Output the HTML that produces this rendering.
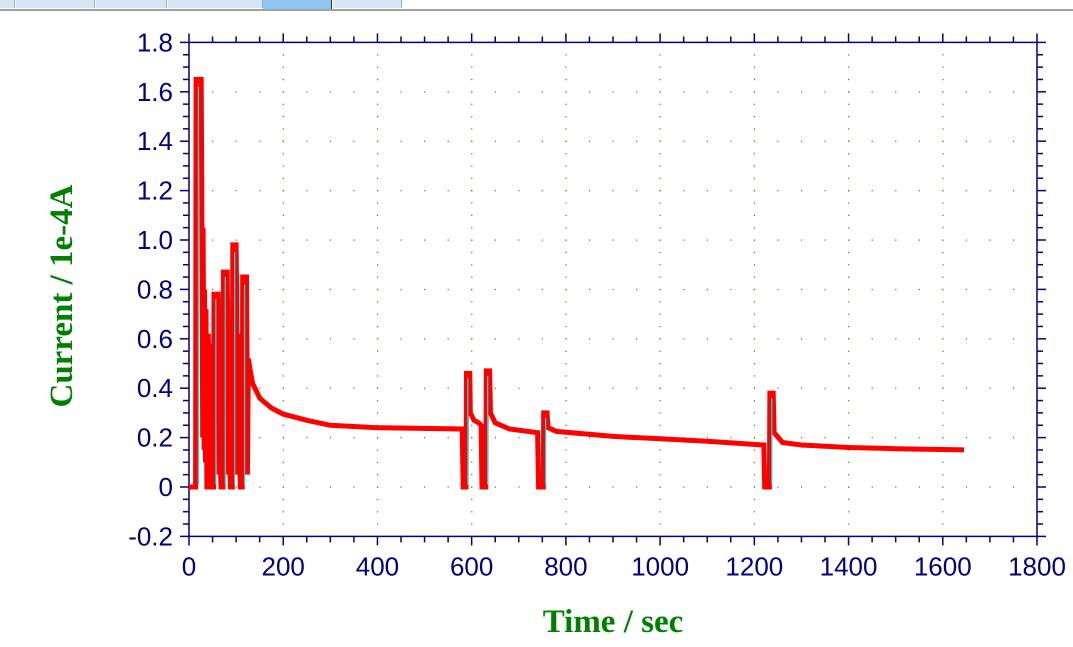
<!DOCTYPE html>
<html><head><meta charset="utf-8"><style>
html,body{margin:0;padding:0;background:#fff;width:1073px;height:647px;overflow:hidden;font-family:"Liberation Sans",sans-serif}
</style></head><body>
<div style="position:absolute;left:0;top:0;width:1073px;height:9px;background:#fff;border-bottom:2px solid #a0a0a0"></div>
<div style="position:absolute;left:0;top:0;width:14px;height:8px;background:#d4e6f8;border-right:1px solid #8fb4dc"></div>
<div style="position:absolute;left:16px;top:0;width:78px;height:8px;background:#d4e6f8;border-right:1px solid #8fb4dc"></div>
<div style="position:absolute;left:96px;top:0;width:70px;height:8px;background:#d4e6f8;border-right:1px solid #8fb4dc"></div>
<div style="position:absolute;left:168px;top:0;width:94px;height:8px;background:#d4e6f8;border-right:1px solid #8fb4dc"></div>
<div style="position:absolute;left:263px;top:0;width:68px;height:9px;background:#8ec4f0;border-right:1px solid #333"></div>
<div style="position:absolute;left:333px;top:0;width:68px;height:8px;background:#d4e6f8;border-right:1px solid #8fb4dc"></div>
<svg id="chart" width="1073" height="647" style="position:absolute;left:0;top:0" xmlns="http://www.w3.org/2000/svg"></svg>
<script>
const times=[0,14,15,26,27,29,30,32,33,35,36,38,40,41,43,45,47,48,52,53,62,63,64,66,67,68,72,73,81,82,84,86,87,88,92,93,100,101,102,104,105,107,108,109,113,114,122,123,124,126,130,135,150,175,200,250,300,400,580,582,588,589,596,597,605,615,620,622,630,631,638,640,650,680,740,742,752,753,760,762,780,900,1000,1100,1220,1222,1232,1233,1240,1242,1260,1300,1400,1500,1645];
const currents=[0,0,1.65,1.65,1.25,0.2,1.05,0.15,0.8,0.1,0.72,0,0,0.62,0.05,0.58,0.05,0,0,0.78,0.78,0.62,0.05,0.52,0.05,0,0,0.87,0.87,0.7,0.05,0.6,0.05,0,0,0.98,0.98,0.8,0.05,0.62,0.05,0.48,0.05,0,0,0.85,0.85,0.58,0.05,0.52,0.47,0.42,0.36,0.32,0.295,0.27,0.25,0.24,0.235,0,0,0.46,0.46,0.3,0.27,0.26,0.25,0,0,0.47,0.47,0.3,0.26,0.235,0.22,0,0,0.3,0.3,0.24,0.225,0.205,0.195,0.185,0.17,0,0,0.38,0.38,0.22,0.18,0.17,0.16,0.155,0.15];
const cyanTimes=[20,57,77,97,118,592,634,757,1237];
const cyanTops=[1.62,0.76,0.85,0.95,0.82,0.44,0.45,0.28,0.36];
const xTicks=[0,200,400,600,800,1000,1200,1400,1600,1800];
const yTicks=[-0.2,0,0.2,0.4,0.6,0.8,1.0,1.2,1.4,1.6,1.8];
const yLabels=["-0.2","0","0.2","0.4","0.6","0.8","1.0","1.2","1.4","1.6","1.8"];

const NS="http://www.w3.org/2000/svg";
const svg=document.getElementById('chart');
const L=189,R=1037,T=42.4,B=536.4;
const X=v=>L+(v-0)/1800*(R-L);
const Y=v=>B-(v+0.2)/2.0*(B-T);
function mk(tag,attrs,parent){const e=document.createElementNS(NS,tag);for(const k in attrs)e.setAttribute(k,attrs[k]);(parent||svg).appendChild(e);return e;}

const g=mk('g',{});


for(const xv of xTicks.slice(1,-1)){for(let yv=-0.15;yv<1.8;yv+=0.05){mk('rect',{x:X(xv)-0.5,y:Y(yv)-0.5,width:1.2,height:1.2,fill:'#5a7a00'},g);}}
for(const yv of yTicks.slice(1,-1)){for(let xv=50;xv<1800;xv+=50){mk('rect',{x:X(xv)-0.5,y:Y(yv)-0.5,width:1.2,height:1.2,fill:'#5a7a00'},g);}}

const ax=mk('g',{stroke:'#000080','stroke-width':1.5,fill:'none'});


mk('rect',{x:L,y:T,width:R-L,height:B-T},ax);
for(let xv=0;xv<=1800;xv+=50){const maj=xv%200===0;const len=maj?9:6;
 mk('line',{x1:X(xv),x2:X(xv),y1:B,y2:B+len},ax);
 mk('line',{x1:X(xv),x2:X(xv),y1:T,y2:T-len},ax);}
for(let i=0;i<=40;i++){const yv=-0.2+i*0.05;const maj=i%4===0;const len=maj?9:6;
 mk('line',{x1:L,x2:L-len,y1:Y(yv),y2:Y(yv)},ax);
 mk('line',{x1:R,x2:R+len,y1:Y(yv),y2:Y(yv)},ax);}

xTicks.forEach(v=>{const t=mk('text',{x:X(v),y:B+39,'text-anchor':'middle','font-size':26,fill:'#000080','font-family':'Liberation Sans, sans-serif'});
 
 
 t.textContent=v;});
yTicks.forEach((v,i)=>{const t=mk('text',{x:L-16,y:Y(v)+9,'text-anchor':'end','font-size':26,fill:'#000080','font-family':'Liberation Sans, sans-serif'});
 
 
 t.textContent=yLabels[i];});

let d='';times.forEach((t,i)=>{d+=(i?'L':'M')+X(t).toFixed(1)+','+Y(currents[i]).toFixed(1);});
const line=mk('path',{d:d,stroke:'#ff0000','stroke-width':5,fill:'none','stroke-linejoin':'miter'});


cyanTimes.forEach((t,i)=>{const c=mk('line',{x1:X(t),x2:X(t),y1:Y(cyanTops[i]),y2:Y(0.01),stroke:'#00e0e0','stroke-width':1.3});
 
 });

const xt=mk('text',{x:613,y:632,'text-anchor':'middle','font-size':33,'font-weight':'bold',fill:'#008000','font-family':'Liberation Serif, serif'});


xt.textContent='Time / sec';
const yt=mk('text',{x:0,y:0,'text-anchor':'middle','font-size':33,'font-weight':'bold',fill:'#008000','font-family':'Liberation Serif, serif',transform:'translate(72,296) rotate(-90)'});


yt.textContent='Current / 1e-4A';
</script>
</body></html>
